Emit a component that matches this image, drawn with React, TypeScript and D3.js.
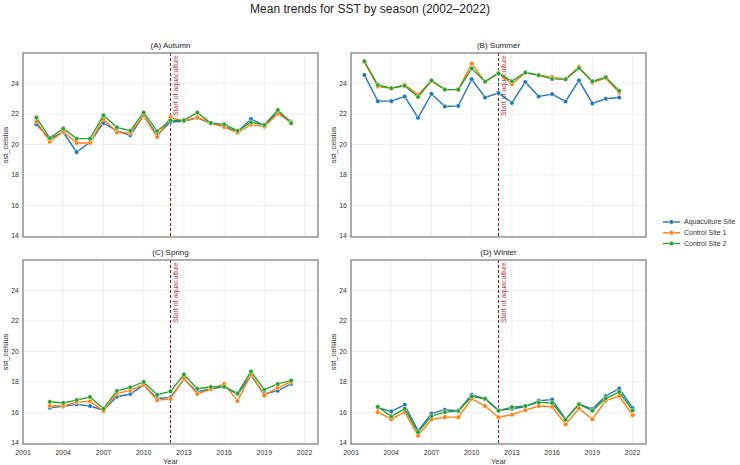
import React, { useEffect, useRef } from "react";
import * as d3 from "d3";

// sites (legend order) and their colours
const siteNames = ["Aquaculture Site", "Control Site 1", "Control Site 2"];
const siteColors = ["#1f77b4", "#ff7f0e", "#2ca02c"];

// Autumn
const autumnYears = [2002, 2003, 2004, 2005, 2006, 2007, 2008, 2009, 2010, 2011, 2012, 2013, 2014, 2015, 2016, 2017, 2018, 2019, 2020, 2021];
const autumnAqua = [21.32, 20.36, 20.8, 19.5, 20.14, 21.41, 20.9, 20.6, 21.9, 20.64, 21.47, 21.52, 21.74, 21.39, 21.19, 20.82, 21.67, 21.23, 22.13, 21.5];
const autumnCtrl1 = [21.52, 20.18, 20.86, 20.1, 20.1, 21.67, 20.79, 20.75, 21.89, 20.49, 21.78, 21.52, 21.78, 21.41, 21.14, 20.77, 21.3, 21.17, 22.02, 21.47];
const autumnCtrl2 = [21.76, 20.42, 21.04, 20.38, 20.38, 21.91, 21.12, 20.9, 22.1, 20.88, 21.58, 21.58, 22.09, 21.41, 21.32, 20.9, 21.45, 21.28, 22.26, 21.39];

// Summer
const summerYears = [2002, 2003, 2004, 2005, 2006, 2007, 2008, 2009, 2010, 2011, 2012, 2013, 2014, 2015, 2016, 2017, 2018, 2019, 2020, 2021];
const summerAqua = [24.56, 22.84, 22.84, 23.15, 21.75, 23.32, 22.49, 22.53, 24.28, 23.08, 23.37, 22.73, 24.1, 23.15, 23.3, 22.82, 24.2, 22.69, 23.0, 23.08];
const summerCtrl1 = [25.4, 23.8, 23.69, 23.91, 23.28, 24.15, 23.6, 23.6, 25.3, 24.1, 24.7, 23.95, 24.7, 24.55, 24.42, 24.28, 25.1, 24.05, 24.35, 23.4];
const summerCtrl2 = [25.46, 23.9, 23.69, 23.85, 23.12, 24.2, 23.6, 23.6, 24.98, 24.13, 24.66, 24.15, 24.72, 24.54, 24.3, 24.28, 25.0, 24.15, 24.41, 23.52];

// Spring
const springYears = [2003, 2004, 2005, 2006, 2007, 2008, 2009, 2010, 2011, 2012, 2013, 2014, 2015, 2016, 2017, 2018, 2019, 2020, 2021];
const springAqua = [16.31, 16.4, 16.53, 16.42, 16.15, 17.03, 17.21, 17.8, 16.92, 16.99, 18.18, 17.36, 17.54, 17.69, 17.19, 18.42, 17.21, 17.43, 17.87];
const springCtrl1 = [16.44, 16.42, 16.68, 16.73, 16.09, 17.23, 17.45, 17.82, 16.81, 16.88, 18.24, 17.21, 17.52, 17.87, 16.75, 18.5, 17.12, 17.63, 18.0];
const springCtrl2 = [16.7, 16.62, 16.81, 17.01, 16.24, 17.41, 17.65, 18.0, 17.16, 17.38, 18.48, 17.56, 17.67, 17.69, 17.25, 18.68, 17.49, 17.87, 18.09];

// Winter
const winterYears = [2003, 2004, 2005, 2006, 2007, 2008, 2009, 2010, 2011, 2012, 2013, 2014, 2015, 2016, 2017, 2018, 2019, 2020, 2021, 2022];
const winterAqua = [16.31, 16.07, 16.5, 14.79, 15.93, 16.18, 16.11, 17.16, 16.9, 16.15, 16.24, 16.37, 16.77, 16.84, 15.56, 16.55, 16.22, 17.08, 17.56, 16.29];
const winterCtrl1 = [16.02, 15.56, 16.02, 14.48, 15.54, 15.69, 15.69, 16.9, 16.42, 15.69, 15.85, 16.15, 16.42, 16.37, 15.21, 16.26, 15.55, 16.77, 17.08, 15.82];
const winterCtrl2 = [16.37, 15.74, 16.24, 14.7, 15.76, 16.02, 16.09, 17.05, 16.9, 16.11, 16.35, 16.42, 16.66, 16.62, 15.52, 16.53, 16.11, 16.92, 17.34, 16.13];

const panelTitles = ["(A) Autumn", "(B) Summer", "(C) Spring", "(D) Winter"];
const xTicks = [2001, 2004, 2007, 2010, 2013, 2016, 2019, 2022];
const yTicks = [14, 16, 18, 20, 22, 24];
const startYear = 2012;

const FONT = "'Liberation Sans', Arial, sans-serif";

function App() {
  const ref = useRef<SVGSVGElement>(null);

  useEffect(() => {
    document.body.style.margin = "0";
    const svg = d3.select(ref.current);
    svg.selectAll("*").remove();

    var width = 740;
    var height = 465;
    var colX = [23, 351];
    var rowY = [53, 260];
    var pw = 295;
    var ph = 184;

    svg.append("rect").attr("width", width).attr("height", height).attr("fill", "white");

    // figure title
    svg.append("text")
      .attr("x", 370).attr("y", 13)
      .attr("text-anchor", "middle")
      .style("font-family", FONT).style("font-size", "12px").attr("fill", "#222")
      .text("Mean trends for SST by season (2002\u20132022)");

    var panels = [
      { years: autumnYears, series: [autumnAqua, autumnCtrl1, autumnCtrl2] },
      { years: summerYears, series: [summerAqua, summerCtrl1, summerCtrl2] },
      { years: springYears, series: [springAqua, springCtrl1, springCtrl2] },
      { years: winterYears, series: [winterAqua, winterCtrl1, winterCtrl2] },
    ];

    panels.forEach(function (p, i) {
      var left = colX[i % 2];
      var top = rowY[Math.floor(i / 2)];
      var bottomRow = i >= 2;

      var x = d3.scaleLinear().domain([2001, 2023]).range([left, left + pw]);
      var y = d3.scaleLinear().domain([13.93, 26]).range([top + ph, top]);

      var g = svg.append("g");

      // grid
      g.selectAll("gx").data(xTicks).enter().append("line")
        .attr("x1", (d) => x(d)).attr("x2", (d) => x(d))
        .attr("y1", top).attr("y2", top + ph)
        .attr("stroke", "#ebebeb").attr("stroke-width", 0.8);
      g.selectAll("gy").data(yTicks).enter().append("line")
        .attr("x1", left).attr("x2", left + pw)
        .attr("y1", (d) => y(d)).attr("y2", (d) => y(d))
        .attr("stroke", "#ebebeb").attr("stroke-width", 0.8);

      // start of aquaculture
      g.append("line")
        .attr("x1", x(startYear)).attr("x2", x(startYear))
        .attr("y1", top).attr("y2", top + ph)
        .attr("stroke", "#a01010").attr("stroke-width", 1)
        .attr("stroke-dasharray", "3,2");
      g.append("text")
        .attr("transform", "translate(" + (x(startYear) + 7) + "," + (top + 2) + ") rotate(-90)")
        .attr("text-anchor", "end")
        .style("font-family", FONT).style("font-size", "7px")
        .attr("fill", "#a01010").attr("fill-opacity", 0.85)
        .text("Start of aquaculture");

      // series
      var line = d3.line<number>()
        .x((d, j) => x(p.years[j]))
        .y((d) => y(d));

      p.series.forEach(function (vals, s) {
        g.append("path")
          .datum(vals)
          .attr("d", line)
          .attr("fill", "none")
          .attr("stroke", siteColors[s])
          .attr("stroke-width", 1.4);
        g.selectAll("pt" + s).data(vals).enter().append("circle")
          .attr("cx", (d, j) => x(p.years[j]))
          .attr("cy", (d) => y(d))
          .attr("r", 2.3)
          .attr("fill", siteColors[s])
          .attr("stroke", "white").attr("stroke-width", 0.5);
      });

      // frame
      g.append("rect")
        .attr("x", left).attr("y", top).attr("width", pw).attr("height", ph)
        .attr("fill", "none").attr("stroke", "#7a7a7a").attr("stroke-width", 1.2);

      // y tick labels
      g.selectAll("yl").data(yTicks).enter().append("text")
        .attr("x", left - 4).attr("y", (d) => y(d)).attr("dy", "0.35em")
        .attr("text-anchor", "end")
        .style("font-family", FONT).style("font-size", "7px").attr("fill", "#333")
        .text((d) => d);

      // y axis label
      g.append("text")
        .attr("transform", "translate(" + (left - 15) + "," + (top + ph / 2) + ") rotate(-90)")
        .attr("text-anchor", "middle")
        .style("font-family", FONT).style("font-size", "7.5px").attr("fill", "#333")
        .text("sst_celsius");

      // panel title
      g.append("text")
        .attr("x", left + pw / 2).attr("y", top - 5)
        .attr("text-anchor", "middle")
        .style("font-family", FONT).style("font-size", "8px").attr("fill", "#222")
        .text(panelTitles[i]);

      if (bottomRow) {
        g.selectAll("xl").data(xTicks).enter().append("text")
          .attr("x", (d) => x(d)).attr("y", top + ph + 11)
          .attr("text-anchor", "middle")
          .style("font-family", FONT).style("font-size", "7px").attr("fill", "#333")
          .text((d) => d);
        g.append("text")
          .attr("x", left + pw / 2).attr("y", top + ph + 20)
          .attr("text-anchor", "middle")
          .style("font-family", FONT).style("font-size", "7.5px").attr("fill", "#333")
          .text("Year");
      }
    });

    // legend
    var legend = svg.append("g");
    var rowsY = [222, 232.8, 243.5];
    siteNames.forEach(function (name, s) {
      legend.append("line")
        .attr("x1", 663).attr("x2", 680)
        .attr("y1", rowsY[s]).attr("y2", rowsY[s])
        .attr("stroke", siteColors[s]).attr("stroke-width", 1.4);
      legend.append("circle")
        .attr("cx", 671.5).attr("cy", rowsY[s]).attr("r", 2.3)
        .attr("fill", siteColors[s]).attr("stroke", "white").attr("stroke-width", 0.5);
      legend.append("text")
        .attr("x", 684).attr("y", rowsY[s]).attr("dy", "0.35em")
        .style("font-family", FONT).style("font-size", "7px").attr("fill", "#333")
        .text(name);
    });
  }, []);

  return <svg ref={ref} width={740} height={465} style={{ display: "block" }}></svg>;
}

export default App;
